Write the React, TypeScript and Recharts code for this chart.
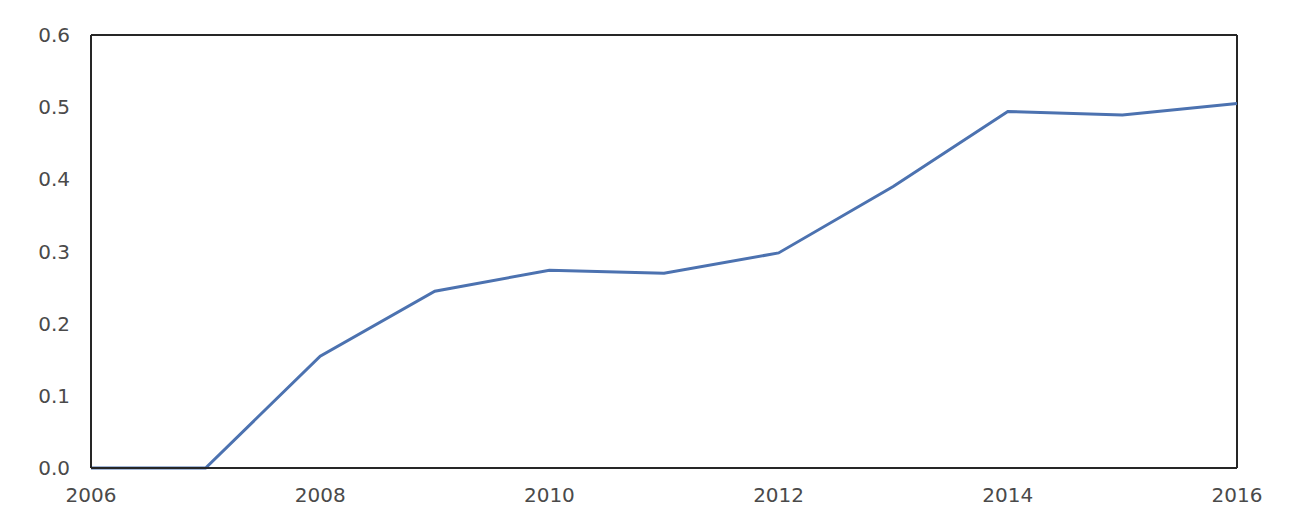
import { LineChart, Line, XAxis, YAxis, ReferenceLine } from "recharts";

const years = [2006, 2007, 2008, 2009, 2010, 2011, 2012, 2013, 2014, 2015, 2016];
const values = [0, 0, 0.155, 0.245, 0.274, 0.27, 0.298, 0.39, 0.494, 0.489, 0.505];
const xTicks = [2006, 2008, 2010, 2012, 2014, 2016];
const yTicks = [0, 0.1, 0.2, 0.3, 0.4, 0.5, 0.6];

const frame = "#262626";
const tickStyle = { fill: "#4a4a4a", fontSize: 20, fontFamily: "'DejaVu Sans', sans-serif" };

export default function App() {
  const data = years.map((year, i) => ({ year, value: values[i] }));

  return (
    <LineChart
      width={1283}
      height={520}
      data={data}
      margin={{ top: 27, right: 54, bottom: 20, left: 0 }}
    >
      <XAxis
        dataKey="year"
        type="number"
        domain={[2006, 2016]}
        ticks={xTicks}
        tickLine={false}
        tickSize={0}
        tickMargin={20}
        height={40}
        axisLine={{ stroke: frame, strokeWidth: 2 }}
        tick={tickStyle}
      />
      <YAxis
        domain={[0, 0.6]}
        ticks={yTicks}
        tickFormatter={(v: number) => v.toFixed(1)}
        tickLine={false}
        tickSize={0}
        tickMargin={21}
        width={83}
        axisLine={{ stroke: frame, strokeWidth: 2 }}
        tick={tickStyle}
      />
      {/* top and right frame edges */}
      <ReferenceLine y={0.6} stroke={frame} strokeWidth={2} ifOverflow="visible" />
      <ReferenceLine x={2016} stroke={frame} strokeWidth={2} ifOverflow="visible" />
      <Line
        type="linear"
        dataKey="value"
        stroke="#4C72B0"
        strokeWidth={3}
        dot={false}
        isAnimationActive={false}
      />
    </LineChart>
  );
}
